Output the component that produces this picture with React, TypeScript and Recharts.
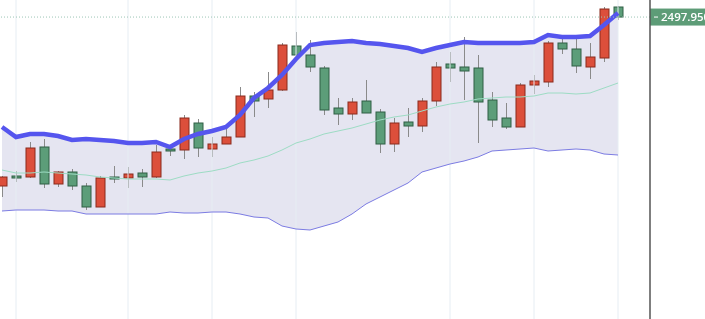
import { Area, Bar, ComposedChart, Line, ReferenceLine, XAxis, YAxis } from "recharts";

// daily OHLC
const open = [
  2329, 2339, 2338, 2368, 2331, 2343, 2329, 2308, 2338, 2337, 2342, 2338, 2366, 2365, 2392,
  2366, 2371, 2378, 2419, 2416, 2425, 2469, 2460, 2447, 2407, 2401, 2414, 2403, 2371, 2393,
  2389, 2414, 2451, 2448, 2447, 2415, 2397, 2388, 2430, 2433, 2472, 2466, 2448, 2457, 2508,
];
const close = [
  2338, 2337, 2367, 2331, 2343, 2329, 2308, 2337, 2336, 2341, 2338, 2363, 2364, 2397, 2367,
  2371, 2378, 2419, 2414, 2425, 2470, 2460, 2448, 2405, 2401, 2413, 2402, 2371, 2392, 2389,
  2414, 2448, 2447, 2444, 2413, 2395, 2388, 2430, 2434, 2472, 2466, 2449, 2458, 2506, 2497.95,
];
const high = [
  2339, 2344, 2373, 2376, 2344, 2346, 2332, 2339, 2349, 2348, 2346, 2370, 2370, 2400, 2396,
  2378, 2387, 2428, 2423, 2443, 2472, 2483, 2475, 2449, 2417, 2417, 2435, 2406, 2397, 2407,
  2417, 2453, 2463, 2478, 2460, 2423, 2412, 2432, 2440, 2474, 2476, 2479, 2472, 2508, 2509,
];
const low = [
  2318, 2333, 2337, 2327, 2328, 2325, 2305, 2308, 2332, 2327, 2328, 2337, 2359, 2356, 2358,
  2358, 2371, 2378, 2398, 2407, 2424, 2457, 2443, 2400, 2390, 2395, 2402, 2362, 2363, 2378,
  2383, 2409, 2433, 2415, 2372, 2388, 2386, 2388, 2421, 2428, 2461, 2442, 2436, 2453, 2495,
];

// bollinger bands
const upper = [
  2388, 2378, 2381, 2381, 2379, 2375, 2376, 2375, 2374, 2372, 2372, 2373, 2368, 2376, 2381,
  2384, 2388, 2400, 2417, 2427, 2440, 2456, 2470, 2472, 2473, 2474, 2472, 2471, 2469, 2467,
  2463, 2467, 2470, 2473, 2472, 2472, 2472, 2472, 2473, 2480, 2478, 2478, 2479, 2490, 2502,
];
const middle = [
  2345, 2342, 2342, 2343, 2342, 2341, 2340, 2338, 2337, 2336, 2336, 2336, 2335, 2339, 2342,
  2344, 2347, 2352, 2355, 2359, 2365, 2372, 2376, 2381, 2384, 2387, 2391, 2395, 2398, 2400,
  2404, 2408, 2411, 2413, 2416, 2417, 2418, 2418, 2419, 2422, 2422, 2421, 2422, 2427, 2432,
];
const lower = [
  2304, 2305, 2305, 2305, 2304, 2304, 2301, 2301, 2301, 2301, 2301, 2301, 2303, 2302, 2302,
  2303, 2303, 2301, 2298, 2297, 2289, 2286, 2285, 2289, 2293, 2301, 2311, 2318, 2325, 2332,
  2343, 2347, 2351, 2354, 2358, 2364, 2365, 2366, 2367, 2364, 2365, 2366, 2365, 2361, 2360,
];

const gridAt = [1, 9, 15, 21, 32, 38, 44];
const LAST = 2497.95;

const data = open.map((o, i) => ({
  i,
  open: o,
  close: close[i],
  high: high[i],
  low: low[i],
  upper: upper[i],
  middle: middle[i],
  lower: lower[i],
}));

const UP = { fill: "#dc4f3b", stroke: "#8a2a1d" };
const DOWN = { fill: "#5c9d79", stroke: "#2f5f45" };

function Candle(props: any) {
  const { x, y, width, height, payload } = props;
  const { open, close, high, low } = payload;
  const py = (v: number) => y + ((high - v) / (high - low)) * height;
  const cx = Math.round(x + width / 2) + 0.5;
  const c = close >= open ? UP : DOWN;
  const top = py(Math.max(open, close));
  const bot = py(Math.min(open, close));
  return (
    <g>
      <line x1={cx} x2={cx} y1={y} y2={y + height} stroke="#8a8a8a" />
      <rect x={cx - 4.5} y={top} width={9} height={Math.max(bot - top, 1)} fill={c.fill} stroke={c.stroke} />
    </g>
  );
}

function PriceTag(props: any) {
  const { viewBox } = props;
  const x = viewBox.x + viewBox.width;
  const y = viewBox.y;
  return (
    <g>
      <rect x={x} y={y - 8.5} width={60} height={17} fill="#5d9c77" />
      <line x1={x + 4} x2={x + 8} y1={y} y2={y} stroke="#fff" />
      <text x={x + 11} y={y + 4} fill="#fff" fontSize={11.5} fontFamily="Open Sans" fontWeight={600}>
        {LAST.toFixed(3)}
      </text>
    </g>
  );
}

export default function App() {
  return (
    <div style={{ position: "fixed", left: -5, top: 0 }}>
      <ComposedChart width={710} height={319} data={data} margin={{ top: 0, right: 0, bottom: 0, left: 0 }}>
        <XAxis dataKey="i" hide padding={{ left: 0, right: 25 }} />
        <YAxis
          orientation="right"
          width={55}
          domain={[2196, 2515]}
          allowDataOverflow
          tick={false}
          tickLine={false}
          axisLine={{ stroke: "#555", strokeWidth: 1.5 }}
        />
        {gridAt.map((g) => (
          <ReferenceLine key={g} x={g} stroke="#e6edf3" />
        ))}
        <Area
          dataKey={(d: any) => [d.lower, d.upper]}
          fill="#e5e5f1"
          fillOpacity={1}
          stroke="none"
          dot={false}
          activeDot={false}
          isAnimationActive={false}
        />
        <Line dataKey="middle" stroke="#9ddcc4" strokeWidth={1} dot={false} activeDot={false} isAnimationActive={false} />
        <Line dataKey="lower" stroke="#7b7be2" strokeWidth={1} dot={false} activeDot={false} isAnimationActive={false} />
        <Line dataKey="upper" stroke="#5555ee" strokeWidth={4.5} dot={false} activeDot={false} isAnimationActive={false} />
        <ReferenceLine y={LAST} stroke="#9cc5b5" strokeDasharray="1 2" label={<PriceTag />} />
        <Bar
          dataKey={(d: any) => [d.low, d.high]}
          shape={<Candle />}
          activeBar={false}
          isAnimationActive={false}
        />
      </ComposedChart>
    </div>
  );
}
